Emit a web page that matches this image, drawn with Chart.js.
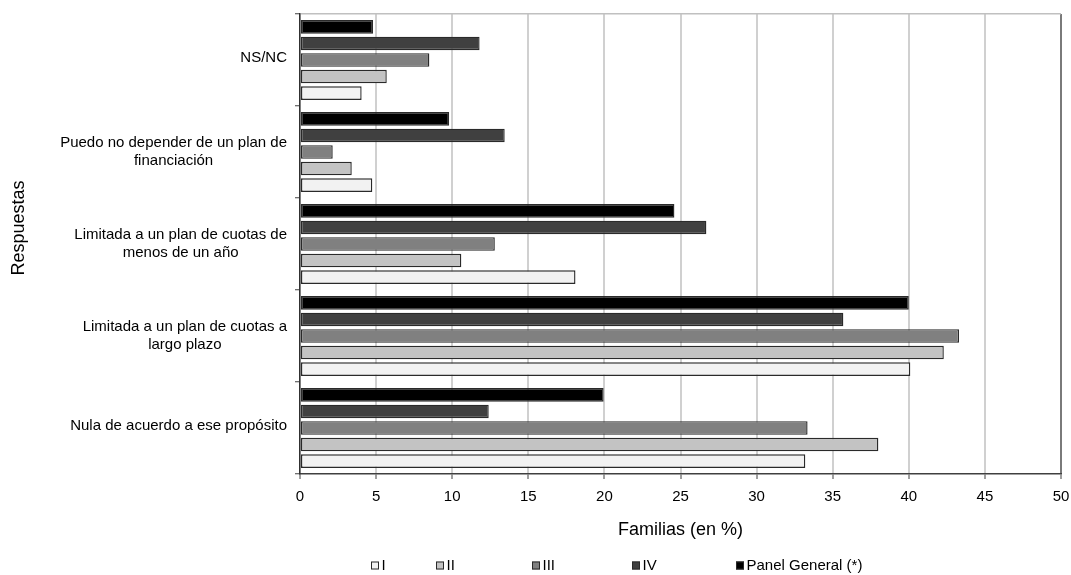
<!DOCTYPE html>
<html>
<head>
<meta charset="utf-8">
<style>
  html, body { margin: 0; padding: 0; background: #ffffff; }
  #wrap { width: 1071px; height: 575px; position: relative; }
</style>
<script src="https://cdn.jsdelivr.net/npm/chart.js@4/dist/chart.umd.min.js"></script>
</head>
<body>
<div id="wrap"><canvas id="c" width="1071" height="575"></canvas></div>
<script>
// ---- data ----
const categories = [
  ['NS/NC'],
  ['Puedo no depender de un plan de', 'financiación'],
  ['Limitada a un plan de cuotas de', 'menos de un año'],
  ['Limitada a un plan de cuotas a', 'largo plazo'],
  ['Nula de acuerdo a ese propósito']
];
const seriesNames = ['I', 'II', 'III', 'IV', 'Panel General (*)'];
const serieI     = [4.05, 4.75, 18.1, 40.1, 33.2];
const serieII    = [5.7, 3.4, 10.6, 42.3, 38.0];
const serieIII   = [8.5, 2.15, 12.8, 43.3, 33.35];
const serieIV    = [11.8, 13.45, 26.7, 35.7, 12.4];
const seriePanel = [4.8, 9.8, 24.6, 40.0, 19.95];
const xTickValues = [0, 5, 10, 15, 20, 25, 30, 35, 40, 45, 50];
const xTitle = 'Familias (en %)';
const yTitle = 'Respuestas';

const seriesValues = [serieI, serieII, serieIII, serieIV, seriePanel];
const seriesColors = ['#f2f2f2', '#c3c3c3', '#808080', '#404040', '#000000'];

const FONT = '"Liberation Sans", Arial, sans-serif';

// datasets: top bar in each group is Panel General, bottom is I
const order = [4, 3, 2, 1, 0];
const datasets = order.map(i => ({
  label: seriesNames[i],
  data: seriesValues[i],
  backgroundColor: seriesColors[i],
  borderColor: '#2a2a2a',
  borderWidth: 1.4,
  borderSkipped: false,
  categoryPercentage: 0.9,
  barPercentage: 0.82
}));

const customText = {
  id: 'customText',
  afterDraw(chart) {
    const ctx = chart.ctx;
    const yScale = chart.scales.y;
    ctx.save();
    ctx.fillStyle = '#000000';
    // category labels: block right-aligned, lines centered within block
    ctx.font = '15px ' + FONT;
    ctx.textBaseline = 'middle';
    ctx.textAlign = 'center';
    const rightEdge = chart.chartArea.left - 13;
    const lh = 18;
    categories.forEach((lines, i) => {
      const yc = yScale.getPixelForValue(i) - (lines.length === 1 ? 2 : 0);
      const widest = Math.max(...lines.map(l => ctx.measureText(l).width));
      const cx = rightEdge - widest / 2;
      lines.forEach((l, k) => {
        const y = yc + (k - (lines.length - 1) / 2) * lh;
        ctx.fillText(l, cx, y);
      });
    });
    // y title
    ctx.save();
    ctx.font = '18px ' + FONT;
    ctx.translate(19, 228);
    ctx.rotate(-Math.PI / 2);
    ctx.textAlign = 'center';
    ctx.textBaseline = 'middle';
    ctx.fillText(yTitle, 0, 0);
    ctx.restore();
    // legend
    const legendX = [371, 436, 532, 632, 736];
    const legendY = 565.5;
    ctx.font = '15px ' + FONT;
    ctx.textAlign = 'left';
    ctx.textBaseline = 'middle';
    seriesNames.forEach((name, i) => {
      const x = legendX[i];
      ctx.fillStyle = seriesColors[i];
      ctx.fillRect(x, legendY - 4, 8, 8);
      ctx.strokeStyle = '#2a2a2a';
      ctx.lineWidth = 1;
      ctx.strokeRect(x + 0.5, legendY - 3.5, 7, 7);
      ctx.fillStyle = '#000000';
      ctx.fillText(name, x + 10.5, legendY);
    });
    ctx.restore();
  }
};

new Chart(document.getElementById('c'), {
  type: 'bar',
  data: { labels: categories, datasets: datasets },
  options: {
    indexAxis: 'y',
    responsive: false,
    animation: false,
    layout: { padding: { left: 0, right: 10, top: 14, bottom: 30 } },
    plugins: {
      legend: { display: false },
      tooltip: { enabled: false },
      title: { display: false }
    },
    scales: {
      x: {
        min: 0,
        max: 50,
        afterBuildTicks(scale) { scale.ticks = xTickValues.map(v => ({ value: v })); },
        afterFit(scale) { scale.height = 71; scale.paddingRight = 0; scale.paddingLeft = 0; },
        ticks: {
          color: '#000000',
          font: { family: FONT, size: 15 },
          padding: 9,
          maxRotation: 0
        },
        grid: {
          color: ctx => (ctx.tick && ctx.tick.value === 50) ? '#7a7a7a' : '#d0d0d0',
          lineWidth: 2,
          tickLength: 5,
          tickColor: '#404040',
          tickWidth: 1
        },
        border: { display: true, color: '#404040', width: 1.5 },
        title: {
          display: true,
          text: xTitle,
          color: '#000000',
          font: { family: FONT, size: 18 },
          padding: { top: 4, bottom: 4 }
        }
      },
      y: {
        afterFit(scale) { scale.width = 300; },
        ticks: { display: false },
        grid: {
          offset: true,
          drawOnChartArea: true,
          color: ctx => ctx.index === 0 ? '#c0c0c0' : 'rgba(0,0,0,0)',
          lineWidth: 1.5,
          tickLength: 5,
          tickColor: '#404040',
          tickWidth: 1
        },
        border: { display: true, color: '#303030', width: 1.5 }
      }
    }
  },
  plugins: [customText]
});
</script>
</body>
</html>
